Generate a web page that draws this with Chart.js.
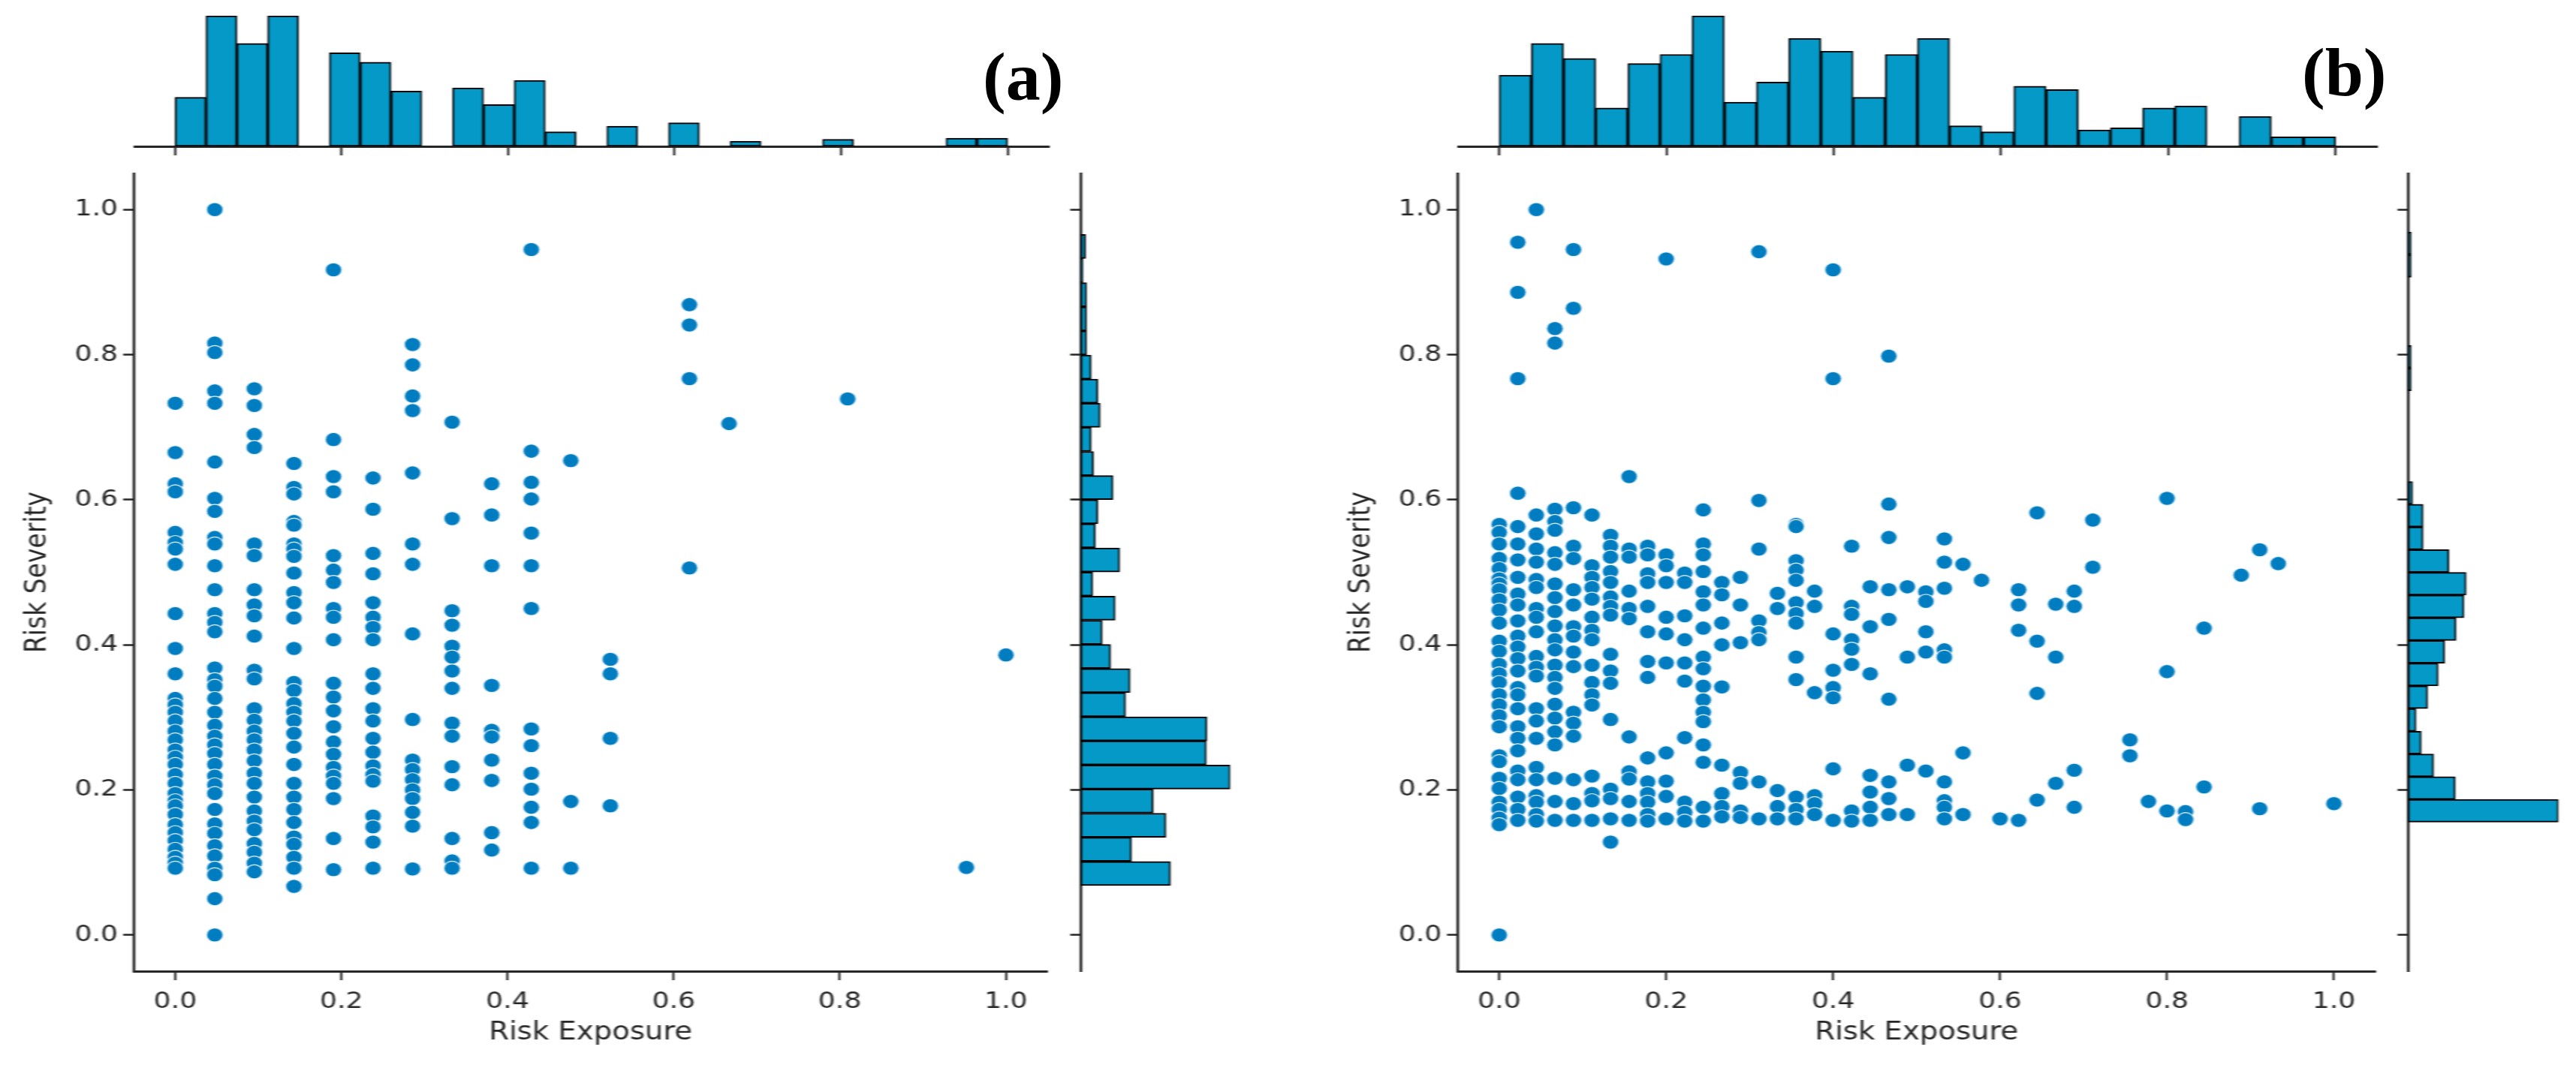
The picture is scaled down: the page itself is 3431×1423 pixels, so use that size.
<!DOCTYPE html>
<html>
<head>
<meta charset="utf-8">
<script src="https://cdn.jsdelivr.net/npm/chart.js@4"></script>
<style>
html,body{margin:0;padding:0;background:#fff;width:3431px;height:1423px;overflow:hidden}
#stretch{position:absolute;left:0;top:0;width:2933px;height:1423px;transform-origin:0 0;transform:scaleX(1.17);filter:blur(0.7px)}
#stretch canvas{position:absolute}
.tag{position:absolute;font:bold 92px "Liberation Serif";color:#000;line-height:1;white-space:nowrap;filter:blur(0.6px)}
</style>
</head>
<body>
<div id="stretch"></div>
<div class="tag" style="left:1309px;top:56px">(a)</div>
<div class="tag" style="left:3066px;top:50px">(b)</div>
<script>
const tickValues = [0, 0.2, 0.4, 0.6, 0.8, 1];
const tickLabels = ['0.0', '0.2', '0.4', '0.6', '0.8', '1.0'];
const xTitle = 'Risk Exposure';
const yTitle = 'Risk Severity';

const exposureA = [0, 0.0476, 0.0952, 0.1429, 0.1905, 0.2381, 0.2857, 0.3333, 0.381, 0.4286, 0.4762, 0.5238, 0.619, 0.6667, 0.8095, 0.9524, 1];
const severityA = [
 [0.733,0.665,0.622,0.611,0.555,0.541,0.532,0.511,0.443,0.395,0.360,0.326,0.317,0.307,0.295,0.281,0.269,0.255,0.245,0.235,0.221,0.209,0.195,0.185,0.178,0.166,0.152,0.141,0.130,0.118,0.107,0.099,0.092],
 [1.0,0.816,0.803,0.750,0.733,0.652,0.602,0.584,0.548,0.539,0.509,0.476,0.443,0.431,0.418,0.368,0.352,0.343,0.326,0.307,0.289,0.274,0.262,0.250,0.235,0.219,0.207,0.195,0.173,0.153,0.140,0.123,0.109,0.092,0.083,0.050,0],
 [0.753,0.730,0.690,0.672,0.539,0.523,0.476,0.455,0.440,0.412,0.365,0.353,0.312,0.296,0.281,0.269,0.255,0.240,0.223,0.209,0.190,0.171,0.157,0.145,0.126,0.114,0.099,0.087],
 [0.650,0.617,0.608,0.570,0.565,0.539,0.532,0.522,0.499,0.472,0.458,0.437,0.395,0.348,0.337,0.319,0.307,0.295,0.278,0.259,0.235,0.209,0.190,0.173,0.155,0.135,0.125,0.107,0.092,0.067],
 [0.917,0.683,0.632,0.611,0.523,0.503,0.486,0.450,0.438,0.407,0.347,0.328,0.309,0.287,0.266,0.249,0.231,0.219,0.209,0.188,0.133,0.090],
 [0.630,0.587,0.526,0.498,0.458,0.438,0.424,0.407,0.360,0.340,0.312,0.295,0.271,0.252,0.233,0.221,0.212,0.164,0.149,0.128,0.092],
 [0.814,0.786,0.743,0.723,0.637,0.539,0.511,0.415,0.297,0.241,0.228,0.214,0.200,0.188,0.169,0.150,0.091],
 [0.707,0.574,0.447,0.427,0.398,0.383,0.364,0.340,0.292,0.274,0.232,0.207,0.133,0.102,0.092],
 [0.622,0.579,0.509,0.344,0.282,0.273,0.241,0.213,0.141,0.117],
 [0.945,0.667,0.624,0.601,0.554,0.509,0.450,0.284,0.261,0.223,0.201,0.176,0.155,0.092],
 [0.654,0.184,0.092],
 [0.380,0.360,0.271,0.178],
 [0.869,0.841,0.767,0.506],
 [0.705],
 [0.739],
 [0.093],
 [0.386]
];
const topBinsA = [0.0185,0.0556,0.0926,0.1296,0.1667,0.2037,0.2407,0.2778,0.3148,0.3519,0.3889,0.4259,0.4630,0.5000,0.5370,0.5741,0.6111,0.6481,0.6852,0.7222,0.7593,0.7963,0.8333,0.8704,0.9074,0.9444,0.9815];
const topCountsA = [37.6,100,78.9,100,0,71.6,64.4,42.3,0,44.8,32,50.5,11.1,0,15.5,0,18,0,4,0,0,5.4,0,0,0,6.3,6.3];
const sideBinsA = [0.0847,0.1180,0.1512,0.1845,0.2177,0.2510,0.2842,0.3175,0.3507,0.3840,0.4172,0.4505,0.4837,0.5170,0.5502,0.5835,0.6167,0.6500,0.6832,0.7165,0.7497,0.7830,0.8162,0.8495,0.8827,0.9160,0.9492];
const sideCountsA = [60,34,57,48.4,100,84,84.4,30,33,20,14.3,23,8,26,9.8,11.4,21.6,8.5,7,13,11.4,7,3.9,3.9,3.9,1.5,3.3];

const exposureB = [0,0.0222,0.0444,0.0667,0.0889,0.1111,0.1333,0.1556,0.1778,0.2,0.2222,0.2444,0.2667,0.2889,0.3111,0.3333,0.3556,0.3778,0.4,0.4222,0.4444,0.4667,0.4889,0.5111,0.5333,0.5556,0.5778,0.6,0.6222,0.6444,0.6667,0.6889,0.7111,0.7556,0.7778,0.8,0.8222,0.8444,0.8889,0.9111,0.9333,1];
const severityB = [
 [0.566,0.555,0.539,0.519,0.505,0.491,0.484,0.476,0.462,0.448,0.430,0.405,0.391,0.373,0.360,0.348,0.331,0.317,0.302,0.287,0.247,0.239,0.216,0.202,0.183,0.173,0.161,0.152,0],
 [0.955,0.886,0.767,0.609,0.563,0.539,0.517,0.493,0.470,0.455,0.433,0.412,0.397,0.381,0.364,0.341,0.331,0.312,0.287,0.271,0.254,0.226,0.214,0.190,0.173,0.158],
 [1.0,0.579,0.553,0.532,0.514,0.490,0.479,0.450,0.438,0.418,0.384,0.369,0.357,0.312,0.295,0.271,0.231,0.214,0.192,0.183,0.166,0.157],
 [0.836,0.816,0.587,0.570,0.558,0.527,0.511,0.484,0.465,0.446,0.426,0.407,0.393,0.372,0.355,0.340,0.318,0.299,0.280,0.262,0.216,0.184,0.158],
 [0.945,0.864,0.589,0.536,0.519,0.476,0.455,0.425,0.412,0.390,0.370,0.307,0.292,0.274,0.214,0.181,0.158],
 [0.579,0.509,0.493,0.479,0.463,0.438,0.420,0.407,0.372,0.348,0.331,0.317,0.219,0.195,0.185,0.158],
 [0.551,0.536,0.521,0.501,0.486,0.466,0.453,0.441,0.387,0.364,0.347,0.297,0.201,0.188,0.160,0.128],
 [0.632,0.532,0.521,0.474,0.450,0.436,0.273,0.225,0.215,0.184,0.158],
 [0.536,0.524,0.498,0.486,0.453,0.418,0.377,0.355,0.244,0.211,0.195,0.183,0.166,0.157],
 [0.932,0.524,0.509,0.486,0.438,0.415,0.375,0.251,0.212,0.191,0.160],
 [0.499,0.486,0.440,0.407,0.375,0.350,0.272,0.183,0.169,0.157],
 [0.586,0.539,0.524,0.501,0.473,0.455,0.423,0.383,0.367,0.343,0.324,0.307,0.294,0.262,0.238,0.176,0.157],
 [0.486,0.469,0.430,0.400,0.342,0.234,0.195,0.177,0.163],
 [0.493,0.455,0.403,0.224,0.209,0.171,0.162],
 [0.942,0.599,0.532,0.433,0.417,0.407,0.211,0.160],
 [0.471,0.450,0.199,0.177,0.160],
 [0.566,0.563,0.516,0.503,0.489,0.458,0.443,0.430,0.383,0.352,0.190,0.173,0.160],
 [0.474,0.453,0.334,0.192,0.181,0.166],
 [0.917,0.767,0.415,0.365,0.341,0.327,0.229,0.158],
 [0.536,0.453,0.442,0.407,0.394,0.373,0.171,0.157],
 [0.480,0.425,0.360,0.220,0.197,0.176,0.158],
 [0.798,0.594,0.548,0.476,0.435,0.325,0.211,0.188,0.166],
 [0.480,0.383,0.234,0.166],
 [0.473,0.460,0.418,0.390,0.226],
 [0.546,0.514,0.478,0.393,0.383,0.211,0.185,0.176,0.160],
 [0.511,0.251,0.166],
 [0.489],
 [0.160],
 [0.476,0.455,0.420,0.158],
 [0.582,0.405,0.333,0.186],
 [0.456,0.383,0.209],
 [0.474,0.453,0.227,0.176],
 [0.572,0.507],
 [0.269,0.247],
 [0.184],
 [0.602,0.363,0.171],
 [0.170,0.159],
 [0.423,0.204],
 [0.496],
 [0.531,0.174],
 [0.512],
 [0.181]
];
const topBinsB = [0.0192,0.0577,0.0962,0.1346,0.1731,0.2115,0.25,0.2885,0.3269,0.3654,0.4038,0.4423,0.4808,0.5192,0.5577,0.5962,0.6346,0.6731,0.7115,0.75,0.7885,0.8269,0.8654,0.9038,0.9423,0.9808];
const topCountsB = [54.6,78.9,67.3,29.4,63.4,70.4,100,33.8,49.2,82.7,72.9,37.6,70.4,82.7,15.7,11.1,46.1,43.5,12.6,14.2,29.4,31,0,23,7.3,7.3];
const sideBinsB = [0.1712,0.2025,0.2338,0.2651,0.2964,0.3277,0.3590,0.3903,0.4216,0.4529,0.4842,0.5155,0.5468,0.5781,0.6094,0.7659,0.7972,0.9223,0.9536];
const sideCountsB = [100,31.4,17,8.8,5.3,13,20,24.4,31.9,37.2,38.6,27.2,10,10,3,2,2,2,2];

const K = 1.17;
const ink = '#262626';
const barFill = '#0599c8';
const dotFill = '#007dc0';
const host = document.getElementById('stretch');
const tickFont = {family:'"DejaVu Sans"', size:31};
const titleFont = {family:'"DejaVu Sans"', size:33};

function mount(L,T,R,B){
  const c = document.createElement('canvas');
  c.width = Math.round((R-L)/K); c.height = B-T;
  c.style.left = (L/K)+'px'; c.style.top = T+'px';
  host.appendChild(c);
  return c;
}
function fixedTicks(s){ s.ticks = tickValues.map(v=>({value:v})); }
function axis(extra){
  return Object.assign({
    type:'linear', min:-0.05, max:1.05,
    afterBuildTicks:fixedTicks,
    border:{color:ink, width:3},
    grid:{offset:false, drawOnChartArea:false, drawTicks:true, tickLength:12, tickWidth:2.5, tickColor:ink},
  }, extra);
}
const base = {responsive:false, animation:false, devicePixelRatio:1, plugins:{legend:{display:false},tooltip:{enabled:false}}};

function scatter(a, exposure, severity){
  const pad = {l:150, t:40, r:10, b:112};
  const pts = exposure.flatMap((x,i)=>severity[i].map(y=>({x,y})));
  new Chart(mount(a.l-pad.l, a.t-pad.t, a.r+pad.r, a.b+pad.b), {
    type:'scatter',
    data:{datasets:[{data:pts, backgroundColor:dotFill, borderColor:'#e6f2f8', borderWidth:1.2, pointRadius:9.4}]},
    options:Object.assign({}, base, {
      layout:{padding:{left:0, top:pad.t, right:pad.r/K, bottom:0}},
      scales:{
        x:axis({afterFit:s=>{s.height=pad.b;},
          ticks:{font:tickFont, color:ink, padding:10, maxRotation:0, autoSkip:false, callback:(v,i)=>tickLabels[i]},
          title:{display:true, text:xTitle, font:titleFont, color:ink, padding:{top:4,bottom:10}}}),
        y:axis({afterFit:s=>{s.width=pad.l/K;},
          ticks:{font:tickFont, color:ink, padding:6, autoSkip:false, callback:(v,i)=>tickLabels[i]},
          title:{display:true, text:yTitle, font:titleFont, color:ink, padding:{top:0,bottom:0}}})
      }
    })
  });
}
function topHist(a, bins, counts){
  const pad = {t:10, b:20, r:10};
  new Chart(mount(a.l, a.t-pad.t, a.r+pad.r, a.b+pad.b), {
    type:'bar',
    data:{datasets:[{data:bins.map((x,i)=>({x,y:counts[i]})), backgroundColor:barFill, borderColor:'#000', borderWidth:2, borderSkipped:false, barPercentage:1, categoryPercentage:1}]},
    options:Object.assign({}, base, {
      layout:{padding:{left:0, top:pad.t, right:pad.r/K, bottom:0}},
      scales:{
        x:axis({afterFit:s=>{s.height=pad.b;}, offset:false, ticks:{display:false, autoSkip:false}}),
        y:{type:'linear', min:0, max:100, display:false}
      }
    })
  });
}
function sideHist(a, bins, counts){
  const pad = {l:19, t:8, r:10, b:8};
  new Chart(mount(a.l-pad.l, a.t-pad.t, a.r+pad.r, a.b+pad.b), {
    type:'bar',
    data:{datasets:[{data:bins.map((y,i)=>({x:counts[i],y})), backgroundColor:barFill, borderColor:'#000', borderWidth:2, borderSkipped:false, barPercentage:1, categoryPercentage:1}]},
    options:Object.assign({}, base, {
      indexAxis:'y',
      layout:{padding:{left:0, top:pad.t, right:pad.r/K, bottom:pad.b}},
      scales:{
        y:axis({afterFit:s=>{s.width=pad.l/K;}, offset:false, ticks:{display:false, autoSkip:false}}),
        x:{type:'linear', min:0, max:100, display:false}
      }
    })
  });
}
scatter({l:178,t:231,r:1398,b:1294}, exposureA, severityA);
topHist({l:178,t:21,r:1398,b:195}, topBinsA, topCountsA);
sideHist({l:1439,t:231,r:1638,b:1294}, sideBinsA, sideCountsA);
scatter({l:1941,t:231,r:3166,b:1294}, exposureB, severityB);
topHist({l:1941,t:21,r:3166,b:195}, topBinsB, topCountsB);
sideHist({l:3207,t:231,r:3407,b:1294}, sideBinsB, sideCountsB);
</script>
</body>
</html>
